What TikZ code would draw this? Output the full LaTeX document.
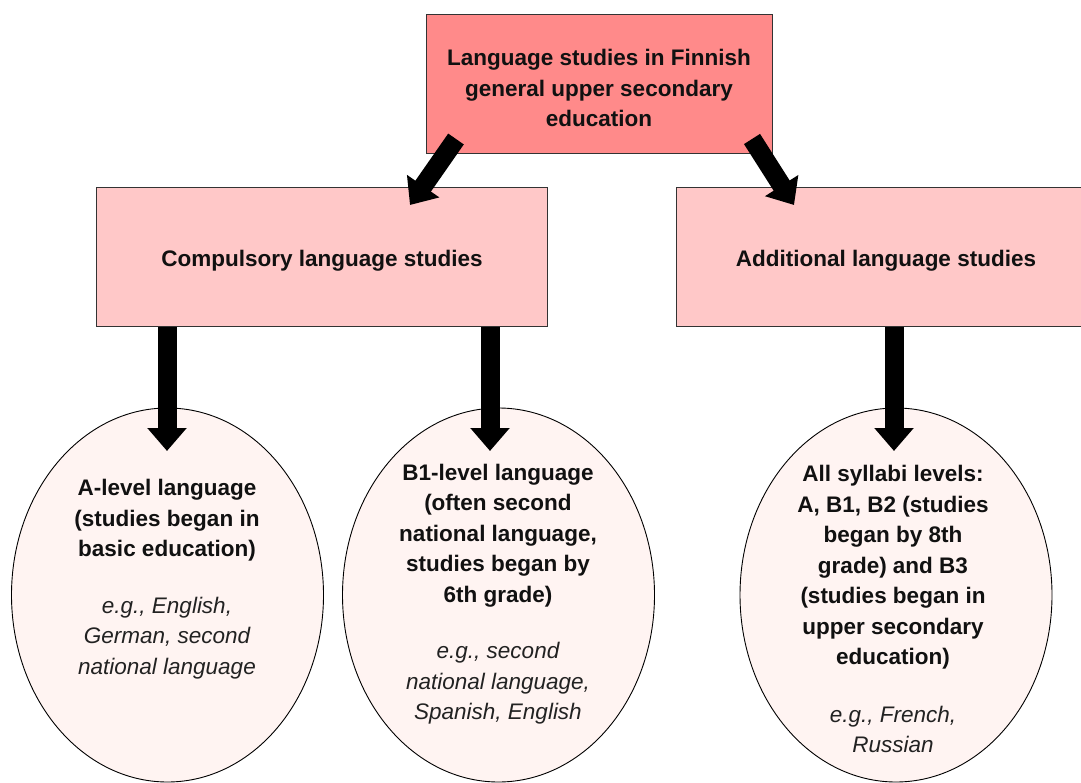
\documentclass[tikz,border=0pt]{standalone}
\usepackage{fontspec}
\setmainfont{Liberation Sans}
\usetikzlibrary{arrows.meta,shapes.geometric}
\definecolor{topfill}{HTML}{FF8A8A}
\definecolor{boxfill}{HTML}{FFC8C8}
\definecolor{ellfill}{HTML}{FFF4F2}
\definecolor{edge}{HTML}{333333}
\definecolor{txt}{HTML}{111111}
\definecolor{ittxt}{HTML}{222222}
\tikzset{
  boxnode/.style={draw=edge, line width=1pt, inner sep=0pt},
  ellnode/.style={ellipse, draw=black, line width=0.9pt, fill=ellfill, inner sep=0pt, minimum width=312pt, minimum height=374pt},
  boldtext/.style={font=\fontsize{22.5}{30.5}\selectfont\bfseries, text=txt, align=center, inner sep=0pt},
  bigarrow/.style={line width=19pt, -{Triangle[width=38pt,length=23pt]}, black},
}
\newcommand{\egtext}[1]{{\fontsize{22.5}{30}\selectfont\mdseries\itshape\color{ittxt}#1}}
\begin{document}
\begin{tikzpicture}[x=1pt,y=-1pt]
\useasboundingbox (0,0) rectangle (1081,783);
% boxes
\node[boxnode, fill=topfill, minimum width=346pt, minimum height=139pt] (top) at (599,84) {};
\node[boldtext] (toptext) at (599,88) {Language studies in Finnish\\general upper secondary\\education};
\node[boxnode, fill=boxfill, minimum width=451pt, minimum height=139pt] (comp) at (321.5,257.5) {};
\node[boldtext] (comptext) at (322,261) {Compulsory language studies};
\node[boxnode, fill=boxfill, minimum width=420pt, minimum height=139pt] (add) at (886,257.5) {};
\node[boldtext] (addtext) at (886,261) {Additional language studies};
% ellipses
\node[ellnode] (ea) at (167.5,595) {};
\node[ellnode] (eb) at (498.5,595) {};
\node[ellnode] (ec) at (896,595) {};
\node[boldtext] (ta) at (167,579) {A-level language\\(studies began in\\basic education)\\[26pt]\egtext{e.g., English,}\\\egtext{German, second}\\\egtext{national language}};
\node[boldtext] (tb) at (498,594) {B1-level language\\(often second\\national language,\\studies began by\\6th grade)\\[26pt]\egtext{e.g., second}\\\egtext{national language,}\\\egtext{Spanish, English}};
\node[boldtext] (tc) at (893,609) {All syllabi levels:\\A, B1, B2 (studies\\began by 8th\\grade) and B3\\(studies began in\\upper secondary\\education)\\[27pt]\egtext{e.g., French,}\\\egtext{Russian}};
% connectors
\coordinate (s1) at (456,139);
\coordinate (t1) at (410,205);
\coordinate (s2) at (752,139);
\coordinate (t2) at (794,205);
\draw[bigarrow] (s1) -- (t1);
\draw[bigarrow] (s2) -- (t2);
\draw[bigarrow] (comp.south -| 167,0) -- (167,451);
\draw[bigarrow] (comp.south -| 490,0) -- (490,451);
\draw[bigarrow] (add.south -| 894,0) -- (894,451);
\end{tikzpicture}
\end{document}
